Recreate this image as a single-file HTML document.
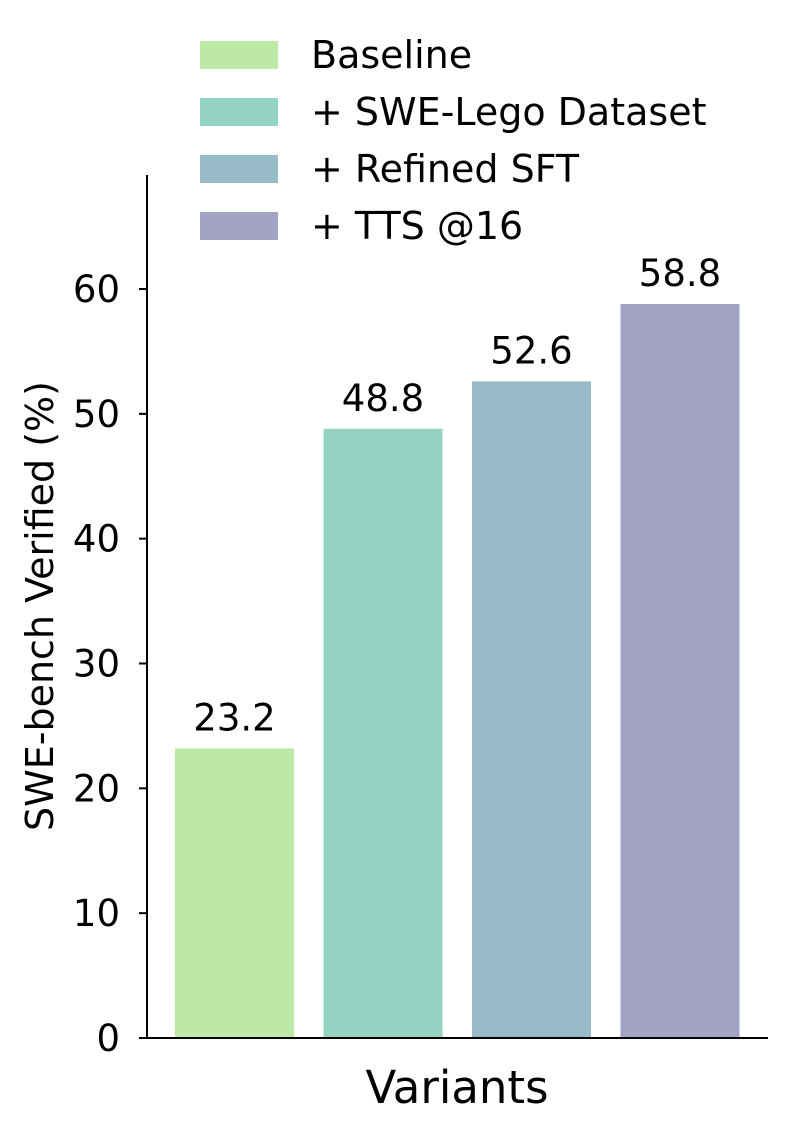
<!DOCTYPE html>
<html><head><meta charset="utf-8"><style>
body{margin:0;background:#fff;}
svg text{font-family:"DejaVu Sans","Liberation Sans",sans-serif;fill:#000;}
</style></head><body>
<svg id="chart" width="791" height="1138" viewBox="0 0 791 1138" xmlns="http://www.w3.org/2000/svg">
<g id="legend"></g>
<g id="bars"></g>
<g id="axes"></g>
<text x="0" y="0" font-size="38" text-anchor="middle" transform="translate(53,606) rotate(-90)">SWE-bench Verified (%)</text>
<text x="457" y="1103" font-size="45" text-anchor="middle">Variants</text>
</svg>
<script>
const categories=["Baseline","+ SWE-Lego Dataset","+ Refined SFT","+ TTS @16"];
const values=[23.2,48.8,52.6,58.8];
const valueLabels=["23.2","48.8","52.6","58.8"];
const colors=["#bde9a7","#94d3c1","#96bac6","#a3a3c5"];
const yTicks=[0,10,20,30,40,50,60];

const NS="http://www.w3.org/2000/svg";
const x0=147,x1=768,y0=1038,yTop=175;
const yScale=v=>y0-v*(749/60);
const slotW=148.5,barW=119,firstX=175;
const xScale=i=>firstX+i*slotW;
function mk(t,a,p){const e=document.createElementNS(NS,t);for(const k in a)e.setAttribute(k,a[k]);p.appendChild(e);return e;}
const bars=document.getElementById('bars'),axes=document.getElementById('axes'),legend=document.getElementById('legend');
values.forEach((v,i)=>{
 const r=mk('rect',{x:xScale(i),y:yScale(v),width:barW,height:y0-yScale(v),fill:colors[i]},bars);
 
 
 const t=mk('text',{x:xScale(i)+barW/2,y:yScale(v)-18,'font-size':37,'text-anchor':'middle'},bars);
 t.textContent=valueLabels[i];
 
 
});
const ax=mk('path',{d:`M${x0},${yTop}V${y0}H${x1}`,fill:'none',stroke:'#000','stroke-width':2},axes);


yTicks.forEach(v=>{
 const y=yScale(v);
 const l=mk('line',{x1:x0-8,x2:x0,y1:y,y2:y,stroke:'#000','stroke-width':2},axes);
 
 
 const t=mk('text',{x:x0-27,y:y+13,'font-size':37,'text-anchor':'end'},axes);
 t.textContent=v;
 
 
});
categories.forEach((c,i)=>{
 const y=41+i*57;
 const r=mk('rect',{x:200,y:y,width:78,height:28,fill:colors[i]},legend);
 
 
 const t=mk('text',{x:311,y:y+27,'font-size':38},legend);
 t.textContent=c;
 
 
});
</script>
</body></html>
